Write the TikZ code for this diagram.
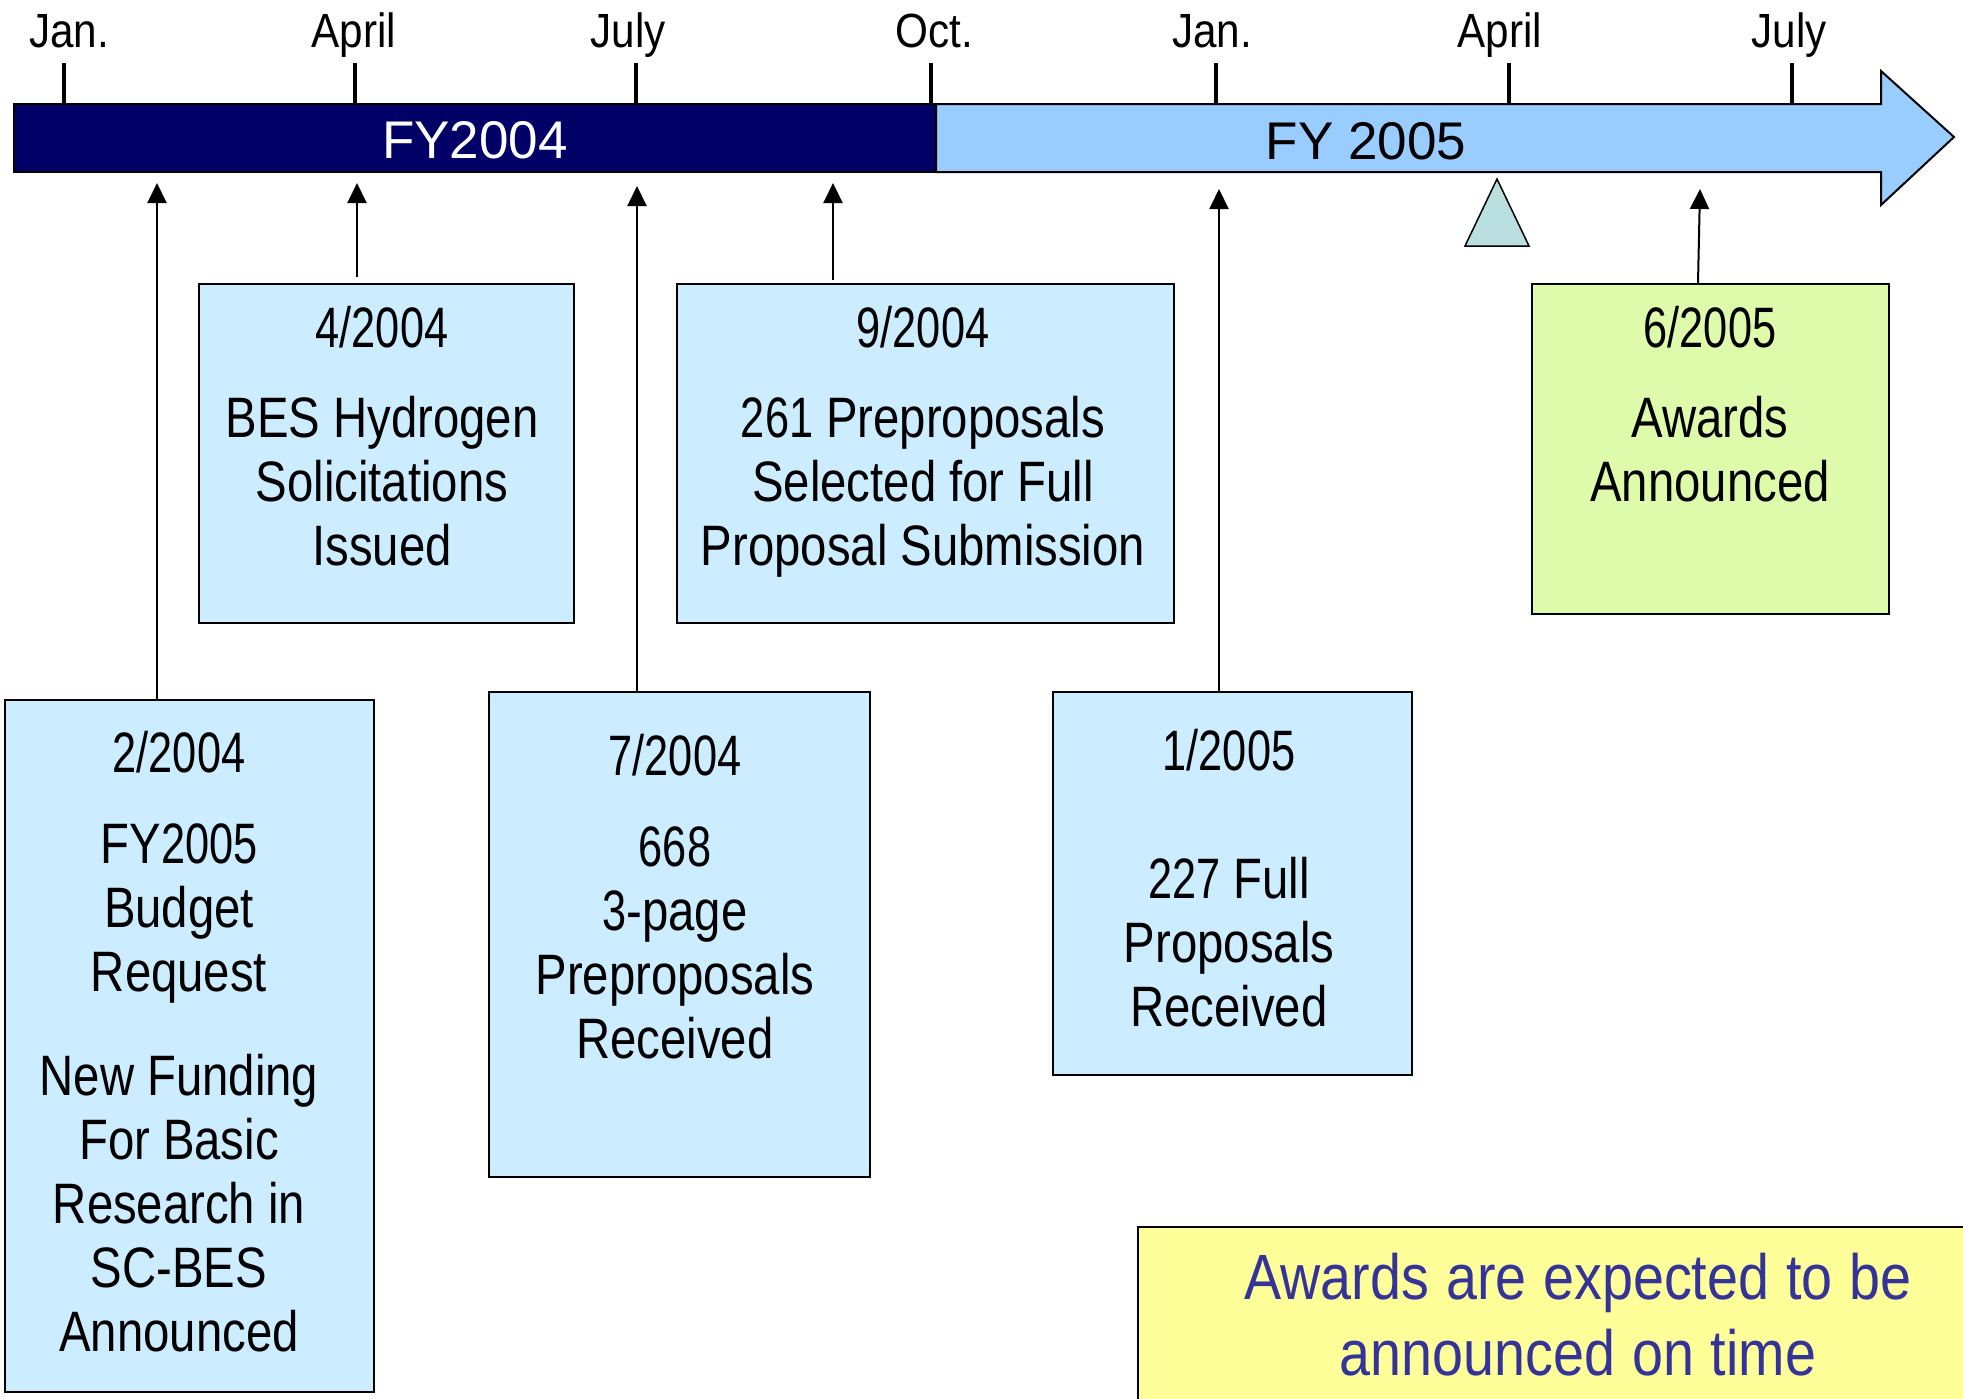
\documentclass[tikz,border=0pt]{standalone}
\usepackage{fontspec}
\setmainfont{Liberation Sans}
\newfontfamily\boxfont[FakeStretch=0.83]{Liberation Sans}
\newfontfamily\numf[FakeStretch=0.76]{Liberation Sans}
\newfontfamily\tickfont[FakeStretch=0.88]{Liberation Sans}
\newfontfamily\notefont[FakeStretch=0.87]{Liberation Sans}
\newcommand\ns{\kern-6pt\relax}
\newcommand\nn{\kern-4.5pt\relax}
\usetikzlibrary{arrows.meta}
\definecolor{navybar}{HTML}{000066}
\definecolor{lightbar}{HTML}{99CCFF}
\definecolor{boxblue}{HTML}{CCECFF}
\definecolor{boxgreen}{HTML}{DDFBAA}
\definecolor{noteyellow}{HTML}{FFFF99}
\definecolor{notetext}{HTML}{333399}
\definecolor{trifill}{HTML}{B9DFE0}
\begin{document}
\begin{tikzpicture}[x=1pt,y=-1pt,
  evbox/.style={draw=black, line width=2pt, fill=boxblue, inner sep=0pt, anchor=north west},
  evtext/.style={inner sep=0pt, anchor=base, align=center, text width=600pt, font=\boxfont\fontsize{57}{64}\selectfont},
  tickmark/.style={line width=4pt},
  ticklabel/.style={anchor=base, inner sep=0pt, font=\tickfont\fontsize{48}{48}\selectfont},
  bartext/.style={anchor=base, inner sep=0pt, font=\fontsize{53}{53}\selectfont},
  arr/.style={line width=2pt, -{Triangle[length=20pt,width=19pt]}}]
\useasboundingbox (0,0) rectangle (1963,1398);
\clip (0,0) rectangle (1963,1398);
\fill[white] (0,0) rectangle (1963,1398);
% timeline bar
\draw[fill=navybar, line width=2pt] (14,104) rectangle (936,172);
\draw[fill=lightbar, line width=2pt] (936,104) -- (1881,104) -- (1881,71) -- (1954,137) -- (1881,205) -- (1881,172) -- (936,172) -- cycle;
\node[bartext, text=white] (fy4) at (475,158) {FY2004};
\node[bartext] (fy5) at (1366,159) {FY 2005};
% ticks
\foreach \x in {64,355,636,931,1216,1509,1792}{\draw[tickmark] (\x,63) -- (\x,104);}
\node[ticklabel] (m1) at (69,47) {Jan.};
\node[ticklabel] (m2) at (354,47) {April};
\node[ticklabel] (m3) at (628,47) {July};
\node[ticklabel] (m4) at (934,47) {Oct.};
\node[ticklabel] (m5) at (1212,47) {Jan.};
\node[ticklabel] (m6) at (1500,47) {April};
\node[ticklabel] (m7) at (1789,47) {July};
% marker triangle
\draw[fill=trifill, line width=1.5pt] (1465,246) -- (1497,179) -- (1529,246) -- cycle;
% boxes
\node[evbox, minimum width=369pt, minimum height=692pt] (b1) at (4,699) {};
\node[evbox, minimum width=375pt, minimum height=339pt] (b2) at (198,283) {};
\node[evbox, minimum width=381pt, minimum height=485pt] (b3) at (488,691) {};
\node[evbox, minimum width=497pt, minimum height=339pt] (b4) at (676,283) {};
\node[evbox, minimum width=359pt, minimum height=383pt] (b5) at (1052,691) {};
\node[evbox, fill=boxgreen, minimum width=357pt, minimum height=330pt] (b6) at (1531,283) {};
\node[evtext] (t1) at (179,772) {{\numf 2/2004}\\[27pt]FY{\numf 2005}\\Budget\\Request\\[40pt]New\ns{} Funding\\For\ns{} Basic\\Research\ns{} in\\SC-BES\\Announced};
\node[evtext] (t2) at (382,347) {{\numf 4/2004}\\[26pt]BES\ns{} Hydrogen\\Solicitations\\Issued};
\node[evtext] (t3) at (675,775) {{\numf 7/2004}\\[27pt]{\numf 668}\\{\numf 3}-page\\Preproposals\\Received};
\node[evtext] (t4) at (923,347) {{\numf 9/2004}\\[26pt]{\numf 261}\ns{} Preproposals\\Selected\ns{} for\ns{} Full\\Proposal\ns{} Submission};
\node[evtext] (t5) at (1229,770) {{\numf 1/2005}\\[64pt]{\numf 227}\ns{} Full\\Proposals\\Received};
\node[evtext] (t6) at (1710,347) {{\numf 6/2005}\\[26pt]Awards\\Announced};
% arrows
\coordinate (p1) at (157,183);
\coordinate (p2) at (357,183);
\coordinate (p3) at (637,186);
\coordinate (p4) at (833,183);
\coordinate (p5) at (1219,189);
\coordinate (p6) at (1700,189);
\draw[arr] (b1.north -| p1) -- (p1);
\draw[arr] ([yshift=6pt]b2.north -| p2) -- (p2);
\draw[arr] (b3.north -| p3) -- (p3);
\draw[arr] ([yshift=3pt]b4.north -| p4) -- (p4);
\draw[arr] (b5.north -| p5) -- (p5);
\draw[arr] ([xshift=-2pt]b6.north -| p6) -- (p6);
% note
\node[evbox, fill=noteyellow, minimum width=840pt, minimum height=190pt] (note) at (1137,1226) {};
\node[inner sep=0pt, anchor=base, align=center, text width=820pt, text=notetext, font=\notefont\fontsize{64}{76}\selectfont] (nt) at (1578,1299) {Awards\nn{} are\nn{} expected\nn{} to\nn{} be\\announced\nn{} on\nn{} time};
\end{tikzpicture}
\end{document}
